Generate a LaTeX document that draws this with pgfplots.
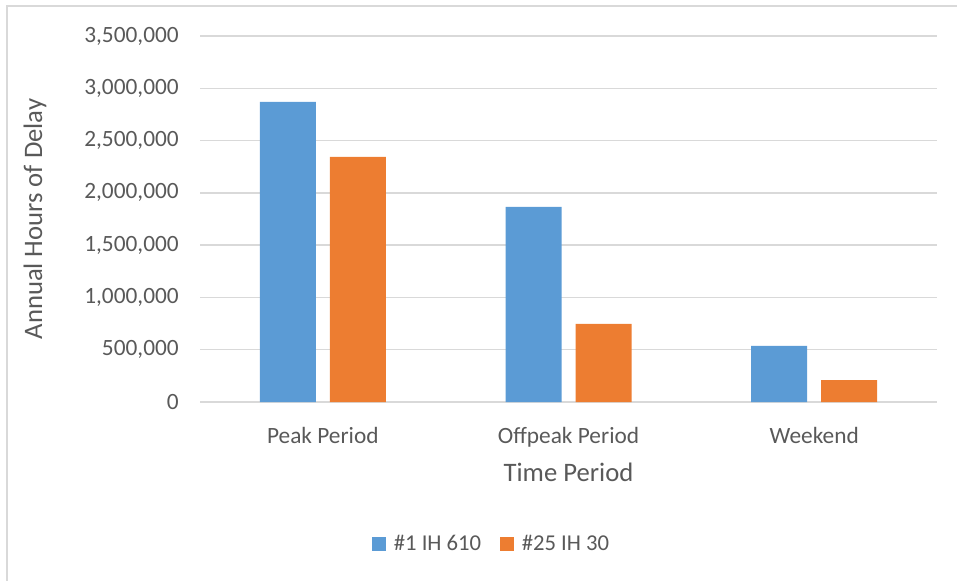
\documentclass[border=0pt]{standalone}
\usepackage{pgfplots}
\pgfplotsset{compat=1.18}
\usepackage{fontspec}
\setmainfont{Carlito}
\definecolor{s1}{HTML}{5B9BD5}
\definecolor{s2}{HTML}{ED7D31}
\definecolor{gridc}{HTML}{D9D9D9}
\definecolor{txt}{HTML}{595959}
\begin{document}
\begin{tikzpicture}
% page size: 957 x 581 px at 0.75pt per px
\path[use as bounding box] (0,0) rectangle (717.75pt,-435.75pt);
\draw[gridc, line width=1.2pt] (5.25pt,-435.75pt) -- (5.25pt,-4.5pt) -- (717.75pt,-4.5pt);
\begin{axis}[
  at={(150pt,-301.5pt)}, anchor=south west,
  scale only axis,
  width=552.75pt, height=274.5pt,
  ybar=10.5pt, bar width=42pt,
  xmin=-0.5, xmax=2.5,
  ymin=0, ymax=3500000,
  xtick=data,
  xticklabels={Peak Period, Offpeak Period, Weekend},
  ytick={0,500000,...,3500000},
  scaled y ticks=false,
  /pgf/number format/.cd, fixed, 1000 sep={,}, assume math mode=true, /pgfplots/.cd,
  ymajorgrids, grid style={gridc, line width=1pt},
  axis x line*=bottom, axis y line*=left,
  x axis line style={gridc, line width=1.2pt},
  y axis line style={draw=none},
  major tick length=0pt,
  tick style={draw=none},
  every tick label/.append style={font=\fontsize{17.5}{20}\selectfont, text=txt},
  yticklabel style={anchor=east, inner sep=0pt, xshift=-15.75pt},
  xticklabel style={anchor=base, inner sep=0pt, yshift=-30.75pt},
  xlabel={Time Period},
  ylabel={Annual Hours of Delay},
  label style={font=\fontsize{20}{24}\selectfont, text=txt},
  xlabel style={at={(axis description cs:0.5,-0.191)}, anchor=center},
  ylabel style={at={(axis description cs:-0.224,0.5)}, anchor=center, rotate=0},
  legend columns=2,
  legend style={at={(axis description cs:0.396,-0.388)}, anchor=center, draw=none,
    font=\fontsize{17}{20}\selectfont, text=txt,
    /tikz/every odd column/.append style={column sep=4pt},
    /tikz/every even column/.append style={column sep=12pt}},
  legend image code/.code={\fill[#1] (0pt,-5.25pt) rectangle (10.5pt,5.25pt);},
]
\addplot[fill=s1, draw=none] coordinates {(0,2869000) (1,1865000) (2,536000)};
\addlegendentry{\#1 IH 610}
\addplot[fill=s2, draw=none] coordinates {(0,2343000) (1,746000) (2,210000)};
\addlegendentry{\#25 IH 30}
\end{axis}
\end{tikzpicture}
\end{document}
